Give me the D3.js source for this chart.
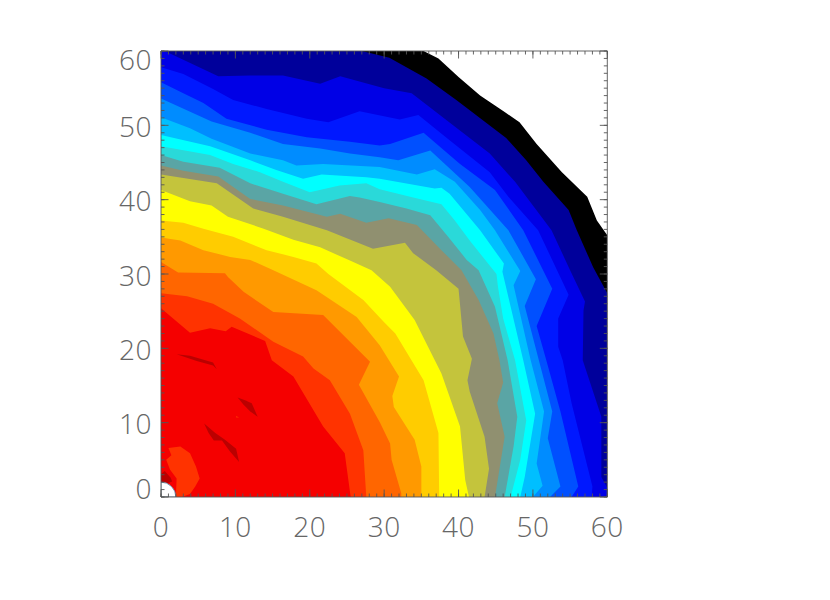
<!DOCTYPE html>
<html><head><meta charset="utf-8">
<script src="https://cdn.jsdelivr.net/npm/d3@7"></script>
<style>html,body{margin:0;background:#fff}svg{display:block}
.lab{font-family:"Open Sans",sans-serif;font-weight:300;font-size:28px;letter-spacing:0.5px;fill:#666}</style>
</head><body><svg id="c" width="830" height="600"></svg>
<script>
// contour boundaries, outermost to innermost, in data units [x,y]
const level0=[[0,60],[35.3,60],[37.3,59],[40,56.5],[42.9,54],[46.2,51.8],[48.2,50.4],[50.5,47.5],[53.9,43.7],[57.3,40.4],[58.6,37.2],[60,35.2],[60,0]];
const level1=[[0,60],[27,60],[30.7,59.1],[35.7,56.3],[39.7,53.4],[46.4,48.3],[49.1,45.3],[51.4,42.4],[54.8,38.6],[55.9,35.9],[58.1,30.9],[60,27.4],[60,0]];
const level2=[[0.5,60],[7.7,56.6],[12,56.7],[16.4,56.7],[21.4,55.6],[24.1,56.6],[30,55],[33.7,54.3],[38.4,50.7],[44.2,46.2],[47.6,42.4],[52.5,35.9],[55,30.5],[57,26.3],[56.8,25.1],[56.7,18.4],[59.2,10.8],[59.2,2.7],[60,1.2],[60,0]];
const level3=[[0,57.8],[3,56.9],[7,54.9],[9.7,53.4],[14.2,52.2],[19.6,50.9],[22.5,50.4],[26.7,51.9],[32.1,50.8],[34.6,51.4],[38.8,48],[44.2,43.7],[46.7,40.4],[50.7,35.9],[54.8,27.2],[53.4,24],[53.4,20.2],[54,18.4],[55.2,12.6],[58,1.4],[57.9,0]];
const level4=[[0,55.8],[3,54.3],[5.7,53],[8.8,50.9],[14.2,49.4],[19.6,48.4],[25.4,47.8],[29.4,47.3],[30.8,47.5],[35.3,49],[40.2,44.8],[44.9,41.3],[48.7,35.9],[52.6,28],[50.5,23],[51.8,18.4],[53.7,11.5],[56.1,1.4],[55.2,0]];
const level5=[[0,53.6],[6.8,50.5],[12,49],[16.4,47.5],[21.4,46.9],[25.4,46.2],[29.4,45.7],[31.9,45.3],[36.2,46.6],[41.5,41.7],[46.7,35.9],[50.4,29.3],[48.9,25.7],[50.8,18.4],[52.6,11.5],[52,7.9],[53.7,1.4],[52.3,0]];
const level6=[[0,51.1],[3.9,49.6],[6.8,48.2],[12,46.2],[16.4,45.3],[18.2,44.6],[21.8,44.8],[29.4,44.4],[34.4,43.4],[36.8,44.1],[39.5,42.4],[42.9,38.6],[44.9,35.9],[48.3,30.4],[47.4,28.5],[49.7,18.4],[51.5,11.5],[50.5,4.5],[51.3,1.5],[50,0]];
const level7=[[0,48.7],[6.6,47.2],[12,45.3],[15.5,44],[19.1,42.8],[21.6,43.4],[27.6,43],[29.4,42.8],[36.8,41.5],[37.7,41.6],[38.8,40.8],[42.9,35.9],[46.1,31.4],[45.9,30.3],[48.7,18.4],[50.3,11.2],[48.9,2.7],[48.3,0]];
const level8=[[0,47.2],[6.6,46],[9.7,44.8],[13.3,43.7],[16.4,42.4],[20,41],[24,41.9],[27.6,42.2],[29.4,41.4],[33.9,40.3],[37.7,39.4],[39.5,37.2],[41.5,34.5],[45.1,30],[45.3,28.3],[46,24],[47.6,18.4],[49.1,10.3],[48.3,5],[47,0]];
const level9=[[0,46],[3,45.1],[7.9,44.3],[12,42.2],[16.4,40.8],[20.9,39.4],[25.4,40.5],[26.7,40.3],[29.4,39.7],[33,38.8],[36.2,37.9],[38.6,35],[41.1,31.9],[42.7,30.5],[44.9,25.6],[46.6,18.4],[47.9,10.8],[47.4,6.8],[46.2,0]];
const level10=[[0,44.6],[3,43.9],[7.7,43.1],[12,40.1],[16.4,39.2],[22.3,37.7],[24.1,38.1],[27.6,36.9],[30.6,37.5],[34.4,36.6],[37.7,33.2],[40.4,30.5],[42.7,26.5],[44.7,22],[45.5,18.4],[46,15.4],[45.2,12.6],[46.2,8.1],[44.9,0]];
const level11=[[0,43.4],[7.5,42.2],[12.4,38.8],[16.4,37.7],[22.3,35.9],[28.5,33.4],[32.8,34.2],[33.9,32.8],[37,30.5],[40,28],[40.6,21.6],[41.8,18.6],[41.2,15.7],[41.5,14.2],[43.5,8.1],[44.1,3.8],[43.5,0]];
const level12=[[0,41.3],[3.9,39.8],[6.8,39.2],[9,37.7],[13.8,36.1],[17.8,34.6],[21.4,33.6],[25.4,31.8],[28.3,30.5],[30.8,28.3],[34.1,23.8],[37.7,16.6],[40.2,9.5],[40.9,2.3],[41.4,0]];
const level13=[[0,37.2],[3,36.9],[5.7,36.1],[9.7,35],[14.2,33.2],[17.8,32.3],[20.9,31.4],[22.5,30],[27.2,26.5],[30,23.5],[31.5,22],[35.3,15.7],[37.3,8.6],[37.4,0]];
const level14=[[0,34.9],[2.6,34.5],[5.7,33.2],[9.3,32.3],[12,31.9],[15.1,30.5],[20.9,27.8],[26.3,24.2],[29.4,20.4],[32,16.2],[31.1,13.6],[31.3,12.1],[34.1,7.7],[35,4.1],[35,0]];
const level15=[[0,31.6],[2.3,30.2],[8.6,30.1],[9,29.6],[11.1,27.6],[15.1,24.9],[21.8,24.5],[28.1,18.2],[26.6,15.1],[29.4,10.1],[30.8,7.2],[31,5],[32.3,0.5],[32.3,0]];
const level16=[[0,27.4],[3.5,27],[7,26],[10.6,24],[15.1,20.9],[19.1,18.9],[20.5,17.3],[22.7,15.7],[25.4,11.2],[27.2,6.3],[27.6,0]];
const level17=[[0,25.4],[3.9,22.1],[6.6,22.7],[8.7,22.3],[9.5,22.9],[14,21],[14.9,18.4],[17.8,16.2],[21.8,9.5],[24.7,5.9],[25.5,0]];
const levels=[level0,level1,level2,level3,level4,level5,level6,level7,level8,level9,level10,level11,level12,level13,level14,level15,level16,level17];
const levelColors=["#000000","#00009b","#0000e6","#0018ff","#0050ff","#008cff","#00bfff","#00ffff","#2ad9d9","#5aa5a5","#909070","#c4c43c","#ffff00","#ffcc00","#ff9900","#ff6600","#ff3300","#f50000"];
// inner islands
const blobOrigin=[[1,6.6],[2.6,6.8],[3.9,5.9],[4.7,4.1],[5.2,2.5],[4.6,1.4],[3.9,0.4],[2.8,0],[2,0],[2.1,2.5],[1.2,3.7],[0.7,5],[1.4,5.6]];
const speck=[[10.1,10.9],[10.5,10.7],[10.1,10.7]];
const darkOrigin=[[0,3.1],[0.5,3.5],[1.3,2.6],[1.5,2.1],[0.8,1.8],[0,1.8]];
const darkA=[[2.1,19.2],[3.9,19],[7,18.1],[7.5,17.2],[7,17.7],[4.8,18.3]];
const darkB=[[10.3,13.4],[11.3,13],[12.2,12.6],[13,10.8],[12,11.5],[11.1,12.4]];
const darkC=[[5.8,9.9],[7.3,8.6],[8.6,7.7],[10.1,6.5],[10.5,4.7],[9.3,6.1],[8.2,7.6],[7.1,7.6],[6.4,8.6]];
const islands=[blobOrigin,speck,darkOrigin,darkA,darkB,darkC];
const islandColors=["#ff3300","#ff3300","#bb0000","#bb0000","#bb0000","#bb0000"];
const holeRadius=[2];
const majorTicks=[0,10,20,30,40,50,60];
const minorTicks=d3.range(0,61);

const svg=d3.select("#c");
const x=d3.scaleLinear().domain([0,60]).range([161,607.3]);
const y=d3.scaleLinear().domain([0,60]).range([497,51]);
const line=d3.line().x(d=>x(d[0])).y(d=>y(d[1])).curve(d3.curveLinearClosed);

svg.append("clipPath").attr("id","pc").append("rect")
  .attr("x",x(0)).attr("y",y(60)).attr("width",x(60)-x(0)).attr("height",y(0)-y(60));
const g=svg.append("g").attr("clip-path","url(#pc)");
g.selectAll("path.lv").data(levels).join("path").attr("class","lv")
  .attr("d",d=>line(d[0][1]===60&&d[0][0]===0?[[0,0],...d]:[[0,0],[0,d[0][1]],...d]))
  .attr("fill",(d,i)=>levelColors[i]);
g.selectAll("path.is").data(islands).join("path").attr("class","is")
  .attr("d",line).attr("fill",(d,i)=>islandColors[i]);
const rp=x(holeRadius[0])-x(0);
g.append("path").attr("transform",`translate(${x(0)},${y(0)})`)
  .attr("d",d3.arc()({innerRadius:0,outerRadius:rp,startAngle:0,endAngle:Math.PI/2}))
  .attr("fill","#fff").attr("stroke","#4f7f9f").attr("stroke-width",0.8);

function axis(gen,tx,ty){return svg.append("g").attr("transform",`translate(${tx},${ty})`).call(gen);}
const col="#555";
function style(a){a.selectAll("line").attr("stroke",col).attr("stroke-width",0.9);a.select(".domain").attr("stroke",col).attr("stroke-width",0.9);a.selectAll("text").remove();}
[[d3.axisBottom(x),0,y(0)],[d3.axisTop(x),0,y(60)],[d3.axisLeft(y),x(0),0],[d3.axisRight(y),x(60),0]].forEach(([gen,tx,ty])=>{
  style(axis(gen.tickValues(minorTicks).tickSize(-3.5).tickFormat("").tickSizeOuter(0).offset(0),tx,ty));
});
[[d3.axisBottom(x),0,y(0)],[d3.axisTop(x),0,y(60)],[d3.axisLeft(y),x(0),0],[d3.axisRight(y),x(60),0]].forEach(([gen,tx,ty])=>{
  const a=axis(gen.tickValues(majorTicks).tickSize(-7.5).tickFormat("").tickSizeOuter(0).offset(0),tx,ty);
  style(a);a.select(".domain").remove();
});
// tick labels
svg.selectAll("text.xl").data(majorTicks).join("text").attr("class","lab xl")
  .attr("x",d=>x(d)).attr("y",537).attr("text-anchor","middle").text(d=>d);
svg.selectAll("text.yl").data(majorTicks).join("text").attr("class","lab yl")
  .attr("x",152).attr("y",d=>{const p=y(d);return (d===60?p+9:d===0?p-8:p+1.5)+10;}).attr("text-anchor","end").text(d=>d);
</script></body></html>
